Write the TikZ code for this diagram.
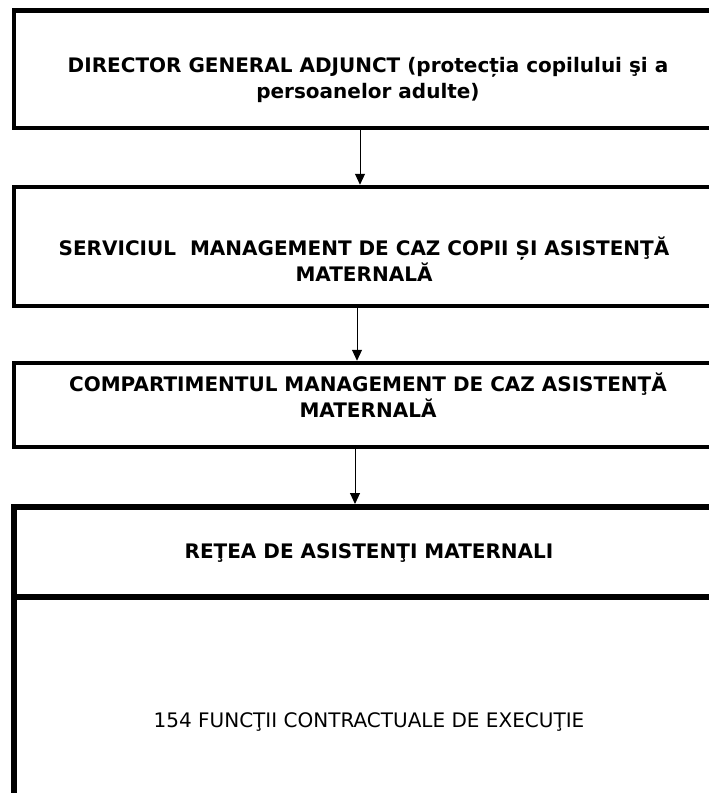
\documentclass[tikz,border=0pt]{standalone}
\usepackage{fontspec}
\setmainfont{DejaVu Sans}
\usetikzlibrary{arrows.meta}
\begin{document}
\begin{tikzpicture}[x=1pt,y=-1pt,
  box/.style={draw, line width=4.5pt, rectangle, minimum width=702pt, inner sep=0pt},
  btext/.style={align=center, anchor=base, inner sep=0pt,
    font=\bfseries\fontsize{20}{26}\selectfont},
  ptext/.style={align=center, anchor=base, inner sep=0pt,
    font=\mdseries\fontsize{20}{26}\selectfont},
  arr/.style={-{Triangle[length=11pt,width=10pt]}, line width=1pt}]
\useasboundingbox (0,0) rectangle (709,793);
\clip (0,0) rectangle (709,793);
% boxes
\node[box, minimum height=117.5pt] (b1) at (365,69.25) {};
\node[box, minimum height=119pt] (b2) at (365,246.5) {};
\node[box, minimum height=84pt] (b3) at (365,405) {};
\node[box, line width=6pt, minimum height=90pt] (b4) at (365,552) {};
\node[box, line width=6pt, minimum height=254pt] (b5) at (365,724) {};
% texts
\node[btext] (t1) at (368,98)
  {DIRECTOR GENERAL ADJUNCT (protecția copilului şi a\\persoanelor adulte)};
\node[btext] (t2) at (364,281)
  {SERVICIUL\ \ MANAGEMENT DE CAZ COPII ȘI ASISTENŢĂ\\MATERNALĂ};
\node[btext] (t3) at (368,417)
  {COMPARTIMENTUL MANAGEMENT DE CAZ ASISTENŢĂ\\MATERNALĂ};
\node[btext] (t4) at (369,558) {REŢEA DE ASISTENŢI MATERNALI};
\node[ptext] (t5) at (369,727) {154 FUNCŢII CONTRACTUALE DE EXECUŢIE};
% connectors
\draw[arr] ([xshift=-5pt]b1.south) -- ([xshift=-5pt]b2.north);
\draw[arr] ([xshift=-8pt]b2.south) -- ([xshift=-8pt]b3.north);
\draw[arr] ([xshift=-10pt]b3.south) -- ([xshift=-10pt]b4.north);
\end{tikzpicture}
\end{document}
